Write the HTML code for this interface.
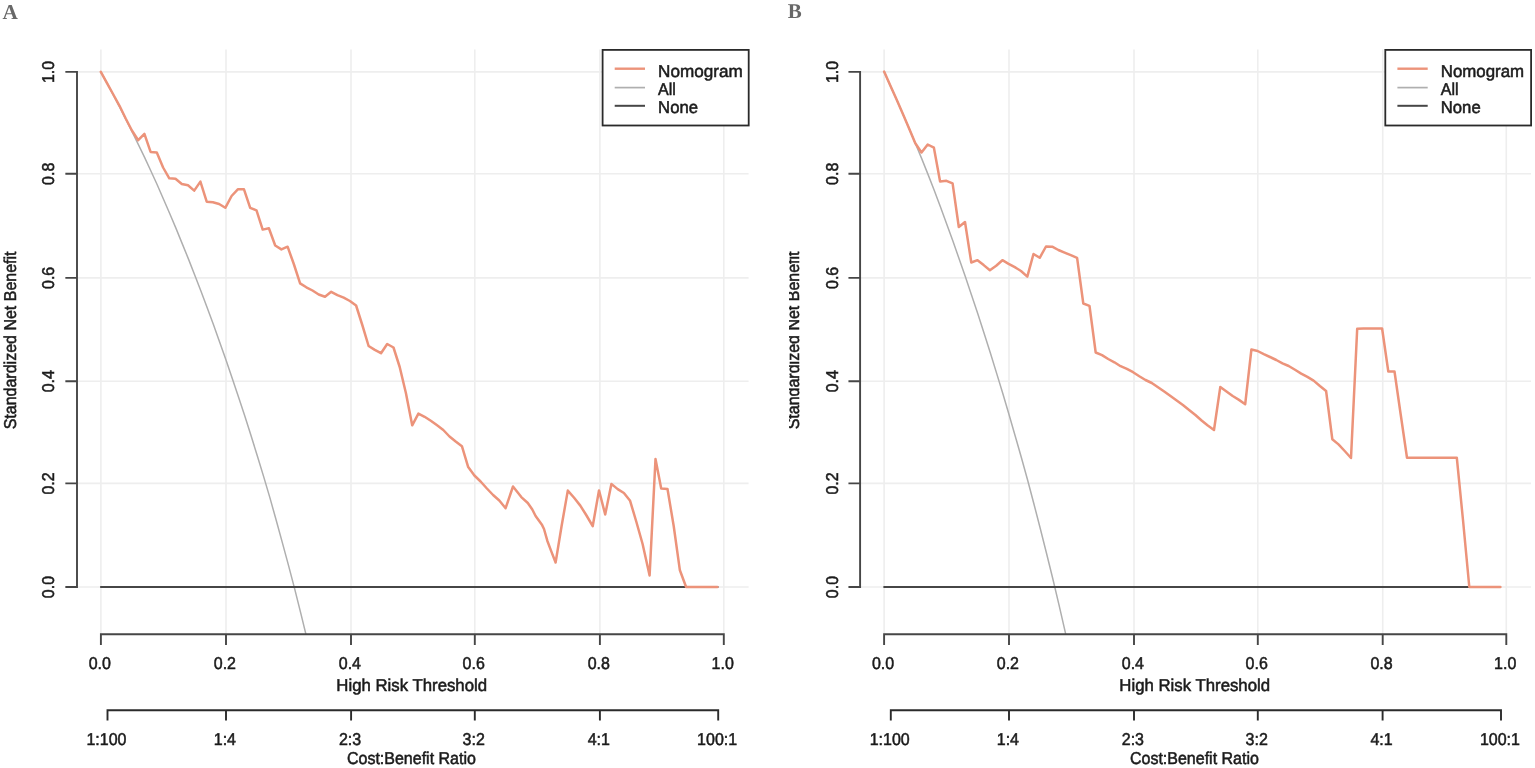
<!DOCTYPE html>
<html><head><meta charset="utf-8"><title>Decision curves</title>
<style>html,body{margin:0;padding:0;background:#fff;width:1535px;height:768px;overflow:hidden}svg{display:block}</style>
</head><body>
<svg width="1535" height="768" viewBox="0 0 1535 768" text-rendering="geometricPrecision"><rect width="1535" height="768" fill="#fff"/><clipPath id="cA"><rect x="75.9" y="49.6" width="672.7" height="584.7"/></clipPath>
<path d="M100.9 49.6V634.3M75.9 587.0H748.6M226.0 49.6V634.3M75.9 483.4H748.6M351.0 49.6V634.3M75.9 381.2H748.6M474.8 49.6V634.3M75.9 277.9H748.6M599.9 49.6V634.3M75.9 173.8H748.6M723.8 49.6V634.3M75.9 71.9H748.6" stroke="#eeeeee" stroke-width="1.6" fill="none"/>
<g clip-path="url(#cA)" fill="none" stroke-linejoin="round" stroke-linecap="round">
<polyline points="100.9,71.9 107.2,83.4 113.4,95.2 119.7,107.1 125.9,119.4 132.2,131.9 138.4,144.6 144.7,157.7 150.9,171.0 157.2,184.8 163.4,199.0 169.7,213.5 176.0,228.4 182.2,243.6 188.5,259.1 194.7,275.1 201.0,291.3 207.2,307.8 213.5,324.8 219.7,342.2 226.0,360.0 232.2,378.3 238.5,396.9 244.8,415.9 251.0,435.5 257.2,455.5 263.5,476.1 269.8,497.4 276.0,519.5 282.2,542.1 288.5,565.4 294.8,589.4 301.0,614.1 307.2,639.5 313.5,665.7" stroke="#afafaf" stroke-width="1.5"/>
<path d="M100.9 587.0H717.6" stroke="#464646" stroke-width="2"/>
<polyline points="100.8,71.8 107.0,83.2 113.3,94.5 119.5,105.8 125.7,118.5 131.9,130.5 138.2,140.2 144.4,133.8 150.6,151.9 156.8,152.5 163.1,167.5 169.3,178.3 175.5,178.7 181.8,184.0 188.0,185.3 194.2,190.6 200.4,181.6 206.7,201.7 212.9,202.3 219.1,204.0 225.3,207.8 231.6,196.0 237.8,189.3 244.0,189.3 250.2,207.8 256.5,210.4 262.7,229.6 268.9,228.3 275.2,245.5 281.4,249.4 287.6,246.7 293.8,264.0 300.1,283.4 306.3,287.3 312.5,290.5 318.7,294.5 325.0,296.7 331.2,291.8 337.4,295.1 343.7,297.7 349.9,301.0 356.1,305.5 362.3,325.0 368.6,346.0 374.8,349.9 381.0,353.2 387.2,344.0 393.5,347.5 399.7,367.0 405.9,393.0 412.2,425.3 418.4,413.6 424.6,416.8 430.8,420.7 437.1,425.3 443.3,430.0 449.5,436.5 455.7,441.5 461.9,446.2 468.2,467.1 474.4,475.5 480.6,481.5 486.9,488.5 493.1,495.0 499.3,500.5 505.6,508.2 513.0,486.5 521.3,497.1 527.8,503.0 532.3,509.5 535.6,516.0 542.1,525.1 544.0,529.0 547.3,540.7 551.2,551.1 555.6,562.5 561.6,526.0 567.8,490.6 574.1,497.8 580.3,505.6 586.5,515.5 592.7,526.2 599.0,490.4 605.2,514.5 611.4,483.9 617.7,489.1 623.9,493.0 630.1,500.8 636.4,522.0 642.6,544.0 649.6,575.5 655.5,459.0 661.2,488.4 667.5,489.0 673.7,526.0 679.9,570.3 686.1,587.0 717.3,587.0" stroke="#ec937a" stroke-width="2.5"/>
</g>
<path d="M77.0 587.0V71.9M77.0 587.0H66.3M77.0 483.4H66.3M77.0 381.2H66.3M77.0 277.9H66.3M77.0 173.8H66.3M77.0 71.9H66.3M100.9 634.3H723.8M100.9 634.3V644.0M226.0 634.3V644.0M351.0 634.3V644.0M474.8 634.3V644.0M599.9 634.3V644.0M723.8 634.3V644.0" stroke="#464646" stroke-width="1.9" fill="none" stroke-linecap="square"/>
<path d="M107.5 710.3H718.2M107.5 710.3V719.5M226.0 710.3V719.5M351.1 710.3V719.5M474.8 710.3V719.5M599.9 710.3V719.5M718.2 710.3V719.5" stroke="#2b2b2b" stroke-width="1.9" fill="none" stroke-linecap="square"/>
<g font-family="&quot;Liberation Sans&quot;, Arial, sans-serif" font-size="16" fill="#1b1b1b" stroke="#1b1b1b" stroke-width="0.5"><text transform="translate(54.40,587.00) rotate(-90) scale(1,1.07)" text-anchor="middle">0.0</text><text transform="translate(99.80,668.90) scale(1,1.07)" text-anchor="middle">0.0</text><text transform="translate(54.40,483.40) rotate(-90) scale(1,1.07)" text-anchor="middle">0.2</text><text transform="translate(224.90,668.90) scale(1,1.07)" text-anchor="middle">0.2</text><text transform="translate(54.40,381.20) rotate(-90) scale(1,1.07)" text-anchor="middle">0.4</text><text transform="translate(349.90,668.90) scale(1,1.07)" text-anchor="middle">0.4</text><text transform="translate(54.40,277.85) rotate(-90) scale(1,1.07)" text-anchor="middle">0.6</text><text transform="translate(473.70,668.90) scale(1,1.07)" text-anchor="middle">0.6</text><text transform="translate(54.40,173.80) rotate(-90) scale(1,1.07)" text-anchor="middle">0.8</text><text transform="translate(598.80,668.90) scale(1,1.07)" text-anchor="middle">0.8</text><text transform="translate(54.40,71.90) rotate(-90) scale(1,1.07)" text-anchor="middle">1.0</text><text transform="translate(722.70,668.90) scale(1,1.07)" text-anchor="middle">1.0</text><text transform="translate(106.40,744.70) scale(1,1.07)" text-anchor="middle">1:100</text><text transform="translate(224.90,744.70) scale(1,1.07)" text-anchor="middle">1:4</text><text transform="translate(350.00,744.70) scale(1,1.07)" text-anchor="middle">2:3</text><text transform="translate(473.70,744.70) scale(1,1.07)" text-anchor="middle">3:2</text><text transform="translate(598.80,744.70) scale(1,1.07)" text-anchor="middle">4:1</text><text transform="translate(717.10,744.70) scale(1,1.07)" text-anchor="middle">100:1</text><text transform="translate(411.70,691.30) scale(1,1.07)" text-anchor="middle" textLength="150.7" lengthAdjust="spacingAndGlyphs">High Risk Threshold</text><text transform="translate(411.40,764.20) scale(1,1.07)" text-anchor="middle">Cost:Benefit Ratio</text><text transform="translate(16.30,340.40) rotate(-90) scale(1,1.07)" text-anchor="middle">Standardized Net Benefit</text></g>
<rect x="602.6" y="49.9" width="146.1" height="75.6" fill="#fff" stroke="#2a2a2a" stroke-width="1.8"/>
<path d="M614.7 68.7H645.0" stroke="#ec937a" stroke-width="2.4"/>
<path d="M614.7 87.6H645.0" stroke="#afafaf" stroke-width="1.7"/>
<path d="M614.7 105.8H645.0" stroke="#464646" stroke-width="2"/>
<g font-family="&quot;Liberation Sans&quot;, Arial, sans-serif" font-size="16" fill="#1b1b1b" stroke="#1b1b1b" stroke-width="0.5"><text transform="translate(658.10,76.80) scale(1,1.07)" text-anchor="start" textLength="84.6" lengthAdjust="spacingAndGlyphs">Nomogram</text><text transform="translate(658.10,95.00) scale(1,1.07)" text-anchor="start">All</text><text transform="translate(658.10,113.30) scale(1,1.07)" text-anchor="start" textLength="39.85" lengthAdjust="spacingAndGlyphs">None</text></g>
<text x="2.6" y="18.6" font-family="&quot;Liberation Serif&quot;, &quot;Times New Roman&quot;, serif" font-weight="bold" font-size="21.3" fill="#686868">A</text><clipPath id="cB"><rect x="859.1" y="49.6" width="671.9" height="584.7"/></clipPath>
<path d="M884.1 49.6V634.3M859.1 587.0H1531.0M1009.0 49.6V634.3M859.1 483.4H1531.0M1134.0 49.6V634.3M859.1 381.2H1531.0M1257.8 49.6V634.3M859.1 277.9H1531.0M1382.7 49.6V634.3M859.1 173.8H1531.0M1506.3 49.6V634.3M859.1 71.9H1531.0" stroke="#eeeeee" stroke-width="1.6" fill="none"/>
<g clip-path="url(#cB)" fill="none" stroke-linejoin="round" stroke-linecap="round">
<polyline points="884.1,71.9 890.3,85.6 896.6,99.6 902.8,113.8 909.1,128.4 915.3,143.2 921.6,158.4 927.8,173.9 934.1,190.1 940.3,206.6 946.5,223.5 952.8,240.8 959.0,258.5 965.3,276.6 971.5,294.9 977.8,313.7 984.0,333.0 990.3,352.7 996.5,372.9 1002.8,393.5 1009.0,414.5 1015.2,436.0 1021.5,458.0 1027.8,480.7 1034.0,504.2 1040.2,528.3 1046.5,553.2 1052.8,578.7 1059.0,604.9 1065.2,631.9 1071.5,659.6" stroke="#afafaf" stroke-width="1.5"/>
<path d="M884.1 587.0H1500.1" stroke="#464646" stroke-width="2"/>
<polyline points="884.1,71.6 890.3,85.6 896.6,99.6 902.8,113.8 909.1,128.4 915.3,143.2 921.5,152.5 927.7,144.5 933.9,147.7 940.1,181.4 946.4,180.8 952.6,183.4 958.8,227.0 965.0,222.0 971.3,262.5 977.5,260.2 983.7,265.1 989.9,270.3 996.2,265.8 1002.4,260.2 1008.6,263.8 1014.8,267.1 1021.0,271.0 1027.3,276.6 1033.5,254.0 1039.7,257.8 1046.0,246.5 1052.2,246.7 1058.4,250.0 1064.6,252.6 1070.8,255.2 1077.1,257.8 1083.3,303.5 1089.5,305.8 1095.7,352.5 1102.0,355.1 1108.2,359.0 1114.4,362.3 1120.6,366.2 1126.9,368.8 1133.1,372.2 1139.3,376.2 1145.5,380.0 1151.8,383.0 1158.0,387.3 1164.2,391.5 1170.5,396.0 1176.7,400.5 1182.9,405.0 1189.1,410.0 1195.4,415.0 1201.6,420.5 1207.8,425.5 1214.0,430.0 1220.3,386.9 1226.5,391.4 1232.7,396.0 1239.0,399.9 1245.2,404.2 1251.4,349.5 1257.6,351.0 1263.8,354.1 1270.0,357.0 1276.3,360.0 1282.5,363.3 1288.7,366.0 1295.0,369.8 1301.2,373.6 1307.4,376.9 1313.6,380.6 1319.9,386.0 1326.1,391.0 1332.3,439.2 1338.5,444.4 1344.7,451.0 1351.0,458.0 1357.2,328.7 1363.4,328.5 1369.6,328.5 1375.8,328.5 1382.1,328.5 1388.3,371.5 1394.5,371.5 1400.7,414.5 1407.0,457.7 1456.8,457.7 1463.0,520.0 1469.3,587.0 1500.4,587.0" stroke="#ec937a" stroke-width="2.5"/>
</g>
<path d="M860.1 587.0V71.9M860.1 587.0H849.4M860.1 483.4H849.4M860.1 381.2H849.4M860.1 277.9H849.4M860.1 173.8H849.4M860.1 71.9H849.4M884.1 634.3H1506.3M884.1 634.3V644.0M1009.0 634.3V644.0M1134.0 634.3V644.0M1257.8 634.3V644.0M1382.7 634.3V644.0M1506.3 634.3V644.0" stroke="#464646" stroke-width="1.9" fill="none" stroke-linecap="square"/>
<path d="M890.8 710.3H1501.0M890.8 710.3V719.5M1009.0 710.3V719.5M1134.0 710.3V719.5M1257.8 710.3V719.5M1382.6 710.3V719.5M1501.0 710.3V719.5" stroke="#2b2b2b" stroke-width="1.9" fill="none" stroke-linecap="square"/>
<clipPath id="kB"><rect x="789.0" y="0" width="100" height="768"/></clipPath>
<g font-family="&quot;Liberation Sans&quot;, Arial, sans-serif" font-size="16" fill="#1b1b1b" stroke="#1b1b1b" stroke-width="0.5"><text transform="translate(837.60,587.00) rotate(-90) scale(1,1.07)" text-anchor="middle">0.0</text><text transform="translate(883.00,668.90) scale(1,1.07)" text-anchor="middle">0.0</text><text transform="translate(837.60,483.40) rotate(-90) scale(1,1.07)" text-anchor="middle">0.2</text><text transform="translate(1007.90,668.90) scale(1,1.07)" text-anchor="middle">0.2</text><text transform="translate(837.60,381.20) rotate(-90) scale(1,1.07)" text-anchor="middle">0.4</text><text transform="translate(1132.90,668.90) scale(1,1.07)" text-anchor="middle">0.4</text><text transform="translate(837.60,277.85) rotate(-90) scale(1,1.07)" text-anchor="middle">0.6</text><text transform="translate(1256.70,668.90) scale(1,1.07)" text-anchor="middle">0.6</text><text transform="translate(837.60,173.80) rotate(-90) scale(1,1.07)" text-anchor="middle">0.8</text><text transform="translate(1381.60,668.90) scale(1,1.07)" text-anchor="middle">0.8</text><text transform="translate(837.60,71.90) rotate(-90) scale(1,1.07)" text-anchor="middle">1.0</text><text transform="translate(1505.20,668.90) scale(1,1.07)" text-anchor="middle">1.0</text><text transform="translate(889.65,744.70) scale(1,1.07)" text-anchor="middle">1:100</text><text transform="translate(1007.90,744.70) scale(1,1.07)" text-anchor="middle">1:4</text><text transform="translate(1132.90,744.70) scale(1,1.07)" text-anchor="middle">2:3</text><text transform="translate(1256.70,744.70) scale(1,1.07)" text-anchor="middle">3:2</text><text transform="translate(1381.50,744.70) scale(1,1.07)" text-anchor="middle">4:1</text><text transform="translate(1499.90,744.70) scale(1,1.07)" text-anchor="middle">100:1</text><text transform="translate(1194.70,691.30) scale(1,1.07)" text-anchor="middle" textLength="150.7" lengthAdjust="spacingAndGlyphs">High Risk Threshold</text><text transform="translate(1194.40,764.20) scale(1,1.07)" text-anchor="middle">Cost:Benefit Ratio</text><g clip-path="url(#kB)"><text transform="translate(799.40,340.40) rotate(-90) scale(1,1.07)" text-anchor="middle">Standardized Net Benefit</text></g></g>
<rect x="1385.3" y="49.9" width="145.8" height="75.6" fill="#fff" stroke="#2a2a2a" stroke-width="1.8"/>
<path d="M1397.4 68.7H1427.7" stroke="#ec937a" stroke-width="2.4"/>
<path d="M1397.4 87.6H1427.7" stroke="#afafaf" stroke-width="1.7"/>
<path d="M1397.4 105.8H1427.7" stroke="#464646" stroke-width="2"/>
<g font-family="&quot;Liberation Sans&quot;, Arial, sans-serif" font-size="16" fill="#1b1b1b" stroke="#1b1b1b" stroke-width="0.5"><text transform="translate(1440.80,76.80) scale(1,1.07)" text-anchor="start" textLength="83.3" lengthAdjust="spacingAndGlyphs">Nomogram</text><text transform="translate(1440.80,95.00) scale(1,1.07)" text-anchor="start">All</text><text transform="translate(1440.80,113.30) scale(1,1.07)" text-anchor="start" textLength="39.85" lengthAdjust="spacingAndGlyphs">None</text></g>
<text x="787.7" y="17.6" font-family="&quot;Liberation Serif&quot;, &quot;Times New Roman&quot;, serif" font-weight="bold" font-size="21.0" fill="#686868">B</text></svg>
</body></html>
